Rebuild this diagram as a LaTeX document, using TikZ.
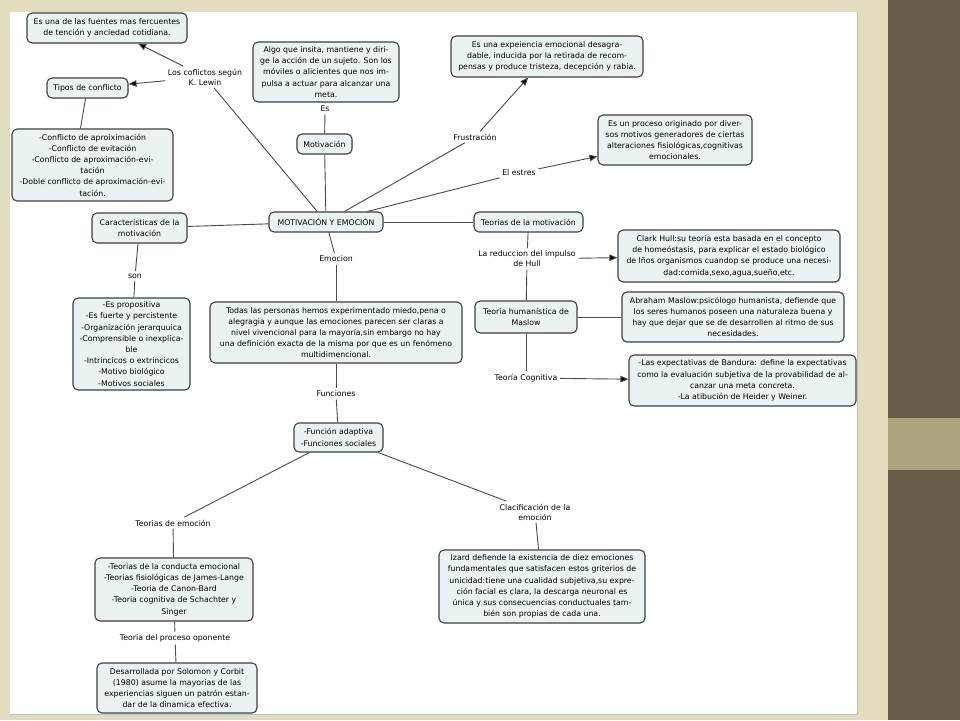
\documentclass[tikz,border=0pt]{standalone}
\usepackage{fontspec}
\setmainfont{DejaVu Sans}
\usetikzlibrary{arrows.meta}
\definecolor{bgbeige}{HTML}{E2DDBD}
\definecolor{olivedark}{HTML}{655E46}
\definecolor{olivelight}{HTML}{A8A57D}
\definecolor{boxfill}{HTML}{EBF2F4}
\definecolor{boxdraw}{HTML}{3F3F3F}
\definecolor{linkcol}{HTML}{4A4A4A}
\tikzset{
  cbox/.style={draw=boxdraw, line width=1.1pt, fill=boxfill, rounded corners=5pt,
    align=center, inner sep=2pt, font=\fontsize{7.8}{11.2}\selectfont, text=black},
  lbl/.style={align=center, inner sep=2.5pt, font=\fontsize{7.8}{10}\selectfont, text=black, fill=white},
  link/.style={draw=linkcol, line width=0.9pt},
  alink/.style={draw=linkcol, line width=0.9pt, -{Triangle[length=8pt,width=6.5pt,fill=black]}},
}
\begin{document}
\begin{tikzpicture}[x=1pt,y=-1pt]
\useasboundingbox (0,0) rectangle (960,720);
\fill[bgbeige] (0,0) rectangle (960,720);
\fill[white] (10,12) rectangle (857,714);
\draw[color=black!25, line width=0.8pt] (857.5,12) -- (857.5,714.5) -- (10,714.5);
\fill[olivedark] (888,0) rectangle (960,720);
\fill[olivelight] (888,418) rectangle (960,470);

% boxes
\node[cbox, minimum width=160pt, minimum height=30pt] (fuentes) at (107,28) {Es una de las fuentes mas fercuentes\\de tención y anciedad cotidiana.};
\node[cbox, minimum width=81pt, minimum height=20pt] (tipos) at (87.5,88) {Tipos de conflicto};
\node[cbox, minimum width=161pt, minimum height=72pt] (conf) at (92.5,165) {-Conflicto de aproiximación\\-Conflicto de evitación\\-Conflicto de aproximación-evi-\\tación\\-Doble conflicto de aproximación-evi-\\tación.};
\node[cbox, minimum width=146pt, minimum height=60pt] (algo) at (326,72) {Algo que insita, mantiene y diri-\\ge la acción de un sujeto. Son los\\móviles o alicientes que nos im-\\pulsa a actuar para alcanzar una\\meta.};
\node[cbox, minimum width=55pt, minimum height=20pt] (motiv) at (324.5,144) {Motivación};
\node[cbox, minimum width=192pt, minimum height=41pt] (frbox) at (547,56.5) {Es una expeiencia emocional desagra-\\dable, inducida por la retirada de recom-\\pensas y produce tristeza, decepción y rabia.};
\node[cbox, minimum width=154pt, minimum height=50pt] (estbox) at (675,140) {Es un proceso originado por diver-\\sos motivos generadores de ciertas\\alteraciones fisiológicas,cognitivas\\emocionales.};
\node[cbox, minimum width=114pt, minimum height=20pt] (main) at (326,222) {MOTIVACIÓN Y EMOCIÓN};
\node[cbox, minimum width=95pt, minimum height=30pt] (carac) at (139.5,228) {Características de la\\motivación};
\node[cbox, minimum width=117pt, minimum height=92pt] (carlist) at (131.5,344) {-Es propositiva\\-Es fuerte y percistente\\-Organización jerarquuica\\-Comprensible o inexplica-\\ble\\-Intrincicos o extrincicos\\-Motivo biológico\\-Motivos sociales};
\node[cbox, minimum width=252pt, minimum height=61pt] (todas) at (336,332.5) {Todas las personas hemos experimentado miedo,pena o\\alegragia y aunque las emociones parecen ser claras a\\nivel vivencional para la mayoría,sin embargo no hay\\una definición exacta de la misma por que es un fenómeno\\multidimencional.};
\node[cbox, minimum width=89pt, minimum height=29pt] (func) at (338.5,437.5) {-Función adaptiva\\-Funciones sociales};
\node[cbox, minimum width=158pt, minimum height=63pt] (teolist) at (174,589.5) {-Teorias de la conducta emocional\\-Teorias fisiológicas de James-Lange\\-Teoria de Canon-Bard\\-Teoria cognitiva de Schachter y\\Singer};
\node[cbox, minimum width=160pt, minimum height=50pt] (solomon) at (177,688) {Desarrollada por Solomon y Corbit\\(1980) asume la mayorias de las\\experiencias siguen un patrón estan-\\dar de la dinamica efectiva.};
\node[cbox, minimum width=206pt, minimum height=73pt] (izard) at (542,586.5) {Izard defiende la existencia de diez emociones\\fundamentales que satisfacen estos griterios de\\unicidad:tiene una cualidad subjetiva,su expre-\\ción facial es clara, la descarga neuronal es\\única y sus consecuencias conductuales tam-\\bién son propias de cada una.};
\node[cbox, minimum width=109pt, minimum height=20pt] (teomot) at (528.5,222) {Teorias de la motivación};
\node[cbox, minimum width=222pt, minimum height=52pt] (clark) at (729,256) {Clark Hull:su teoría esta basada en el concepto\\de homeóstasis, para explicar el estado biológico\\de lños organismos cuandop se produce una necesi-\\dad:comida,sexo,agua,sueño,etc.};
\node[cbox, minimum width=102pt, minimum height=32pt] (maslow) at (526,317) {Teoría humanística de\\Maslow};
\node[cbox, minimum width=222pt, minimum height=50pt] (abraham) at (733,317) {Abraham Maslow:psicólogo humanista, defiende que\\los seres humanos poseen una naturaleza buena y\\hay que dejar que se de desarrollen al ritmo de sus\\necesidades.};
\node[cbox, minimum width=227pt, minimum height=51pt] (bandura) at (742.5,380.5) {-Las expectativas de Bandura: define la expectativas\\como la evaluación subjetiva de la provabilidad de al-\\canzar una meta concreta.\\-La atibución de Heider y Weiner.};

% labels
\node[lbl] (lewin) at (205,77) {Los coflictos según\\K. Lewin};
\node[lbl] (es) at (325,109) {Es};
\node[lbl] (frus) at (475,137) {Frustración};
\node[lbl] (estres) at (519,173) {El estres};
\node[lbl] (son) at (135,276) {son};
\node[lbl] (emocion) at (336,259) {Emocion};
\node[lbl] (funciones) at (336,394) {Funciones};
\node[lbl] (teoemo) at (173,523) {Teorias de emoción};
\node[lbl] (proceso) at (175,638) {Teoria del proceso oponente};
\node[lbl] (clacif) at (535,512) {Clacificación de la\\emoción};
\node[lbl] (hull) at (527,259) {La reduccion del impulso\\de Hull};
\node[lbl] (cogn) at (526,378) {Teoría Cognitiva};

% connectors
\draw[alink] (lewin) -- (fuentes);
\draw[alink] (lewin) -- (tipos);
\draw[link] (lewin) -- (main);
\draw[link] ([xshift=-2pt]tipos.south) -- ([xshift=-12pt]conf.north);
\draw[link] (algo) -- (es);
\draw[link] (es) -- (motiv);
\draw[link] (motiv) -- (main);
\draw[link] (main) -- (frus);
\draw[alink] (frus) -- (frbox);
\draw[link] (main) -- (estres);
\draw[alink] (estres) -- (estbox);
\draw[link] (main) -- (carac);
\draw[link] (carac) -- (son);
\draw[link] (son) -- (carlist);
\draw[link] (main) -- (emocion);
\draw[link] (emocion) -- (todas);
\draw[link] (todas) -- (funciones);
\draw[link] (funciones) -- (func);
\draw[link] (func) -- (teoemo);
\draw[link] (teoemo) -- (teolist);
\draw[link] (teolist) -- (proceso);
\draw[link] (proceso) -- (solomon);
\draw[link] (func) -- (clacif);
\draw[link] (clacif) -- (izard);
\draw[link] (main) -- (teomot);
\draw[link] (teomot) -- (hull);
\draw[link] (hull) -- (maslow);
\draw[alink] (hull) -- (clark);
\draw[link] (maslow) -- (abraham);
\draw[link] (maslow) -- (cogn);
\draw[alink] (cogn) -- (bandura);
\end{tikzpicture}
\end{document}
